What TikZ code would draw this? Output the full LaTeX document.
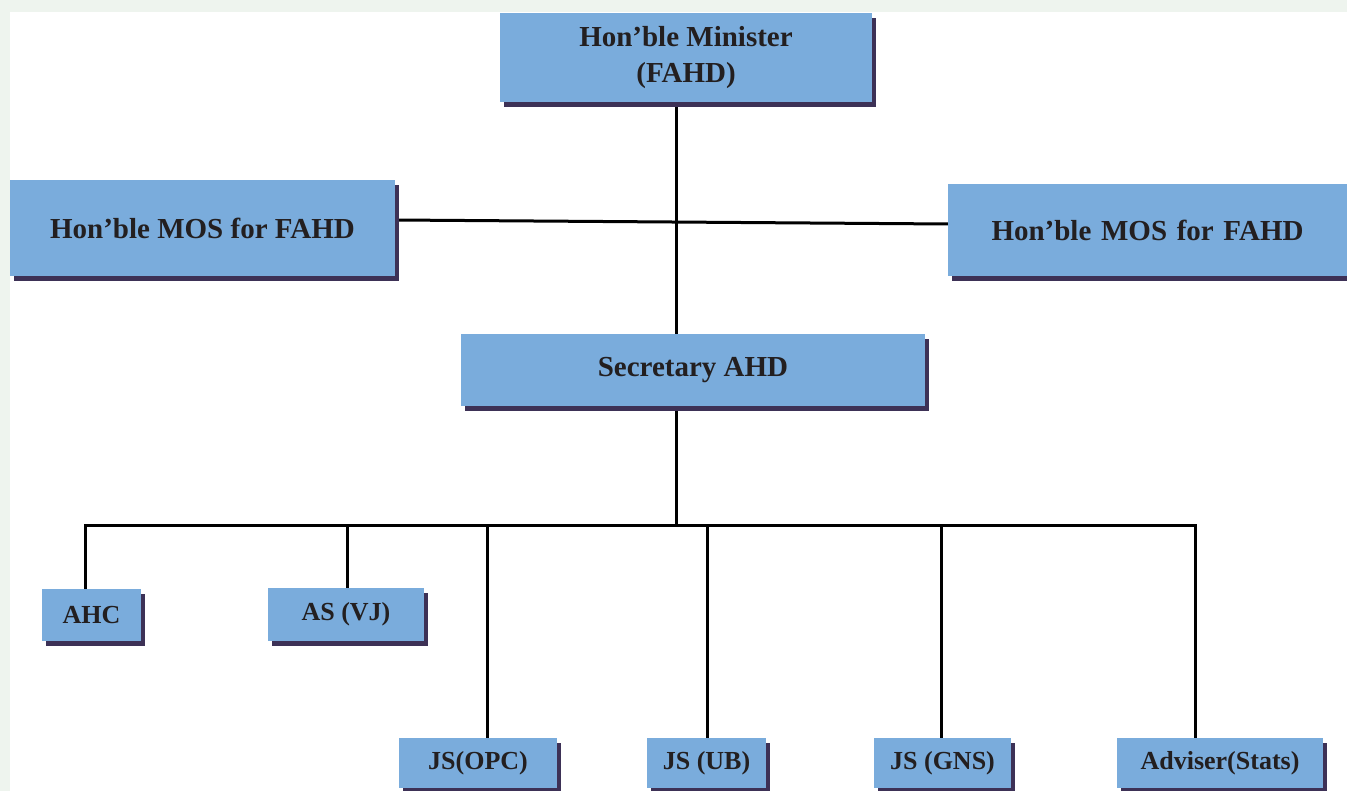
\documentclass[tikz,border=0pt]{standalone}
\usepackage{fontspec}
\setmainfont{Liberation Serif}
\usetikzlibrary{shadows}
\definecolor{boxblue}{RGB}{122,172,220}
\definecolor{shadowcol}{RGB}{61,49,86}
\definecolor{txtcol}{RGB}{35,31,32}
\definecolor{bgcol}{RGB}{238,244,238}
\pgfdeclarelayer{bglayer}
\pgfdeclarelayer{linelayer}
\pgfsetlayers{bglayer,linelayer,main}
\tikzset{
  orgbox/.style={fill=boxblue, draw=none, inner sep=0pt, align=center,
    text=txtcol, font=\bfseries\fontsize{29}{36}\selectfont,
    drop shadow={shadow xshift=4pt, shadow yshift=-5pt, fill=shadowcol, opacity=1}},
  smallbox/.style={orgbox, font=\bfseries\fontsize{26}{30}\selectfont},
  conn/.style={draw=black, line width=3pt}
}
\begin{document}
\begin{tikzpicture}[x=1pt,y=-1pt]
\begin{pgfonlayer}{bglayer}
  \fill[bgcol] (0,0) rectangle (1347,791);
  \fill[white] (10,12) rectangle (1347,791);
\end{pgfonlayer}
\useasboundingbox (0,0) rectangle (1347,791);

\node[orgbox, minimum width=372pt, minimum height=89pt] (min) at (686,57.5) {Hon’ble Minister\\(FAHD)};
\node[orgbox, minimum width=385pt, minimum height=96pt] (mosl) at (202.5,228) {Hon’ble MOS for FAHD};
\node[orgbox, minimum width=412pt, minimum height=92pt, text width=399pt] (mosr) at (1154,230) {Hon’ble MOS for FAHD\hspace*{13pt}};
\node[orgbox, minimum width=464pt, minimum height=72pt] (sec) at (693,370) {Secretary AHD};
\node[smallbox, minimum width=99pt, minimum height=52pt] (ahc) at (91.5,615) {AHC};
\node[smallbox, minimum width=156pt, minimum height=53pt] (asvj) at (346,614.5) {AS (VJ)};
\node[smallbox, minimum width=158pt, minimum height=50pt] (opc) at (478,763) {JS(OPC)};
\node[smallbox, minimum width=119pt, minimum height=50pt] (ub) at (706.5,763) {JS (UB)};
\node[smallbox, minimum width=137pt, minimum height=50pt] (gns) at (942.5,763) {JS (GNS)};
\node[smallbox, minimum width=206pt, minimum height=50pt] (adv) at (1220,763) {Adviser(Stats)};

\coordinate (trunk) at (676,0);
\coordinate (bus) at (0,525);
\coordinate (mosa) at (395,220);
\coordinate (mosb) at (948,224);
\coordinate (dahc) at (85,0);
\coordinate (dasvj) at (347,0);
\coordinate (dopc) at (487,0);
\coordinate (dub) at (707,0);
\coordinate (dgns) at (941,0);
\coordinate (dadv) at (1195,0);

\begin{pgfonlayer}{linelayer}
  \draw[conn] (min.south -| trunk) -- (sec.north -| trunk);
  \draw[conn] (mosl.east |- mosa) -- (mosr.west |- mosb);
  \draw[conn] (sec.south -| trunk) -- (bus -| trunk);
  \draw[conn, line cap=rect] (bus -| dahc) -- (bus -| dadv);
  \draw[conn] (bus -| dahc) -- (ahc.north -| dahc);
  \draw[conn] (bus -| dasvj) -- (asvj.north -| dasvj);
  \draw[conn] (bus -| dopc) -- (opc.north -| dopc);
  \draw[conn] (bus -| dub) -- (ub.north -| dub);
  \draw[conn] (bus -| dgns) -- (gns.north -| dgns);
  \draw[conn] (bus -| dadv) -- (adv.north -| dadv);
\end{pgfonlayer}
\end{tikzpicture}
\end{document}
